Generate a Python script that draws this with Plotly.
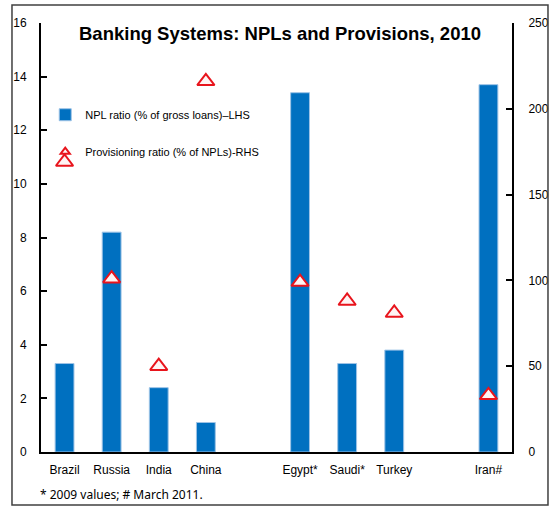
import plotly.graph_objects as go

# Data
categories = ["Brazil", "Russia", "India", "China", " ",
              "Egypt*", "Saudi*", "Turkey", "  ", "Iran#"]
npl_ratio = [3.3, 8.2, 2.4, 1.1, None, 13.4, 3.3, 3.8, None, 13.7]
provisioning = [169, 101, 50, 216, None, 99, 88, 81, None, 33]

left_ticks = [0, 2, 4, 6, 8, 10, 12, 14, 16]
right_ticks = [0, 50, 100, 150, 200, 250]

font_main = "Liberation Sans, Arial, sans-serif"
tri_marker = dict(symbol="triangle-up", color="#FFF4F4",
                  line=dict(color="#E8141C", width=2))

fig = go.Figure()

fig.add_trace(go.Bar(
    x=categories,
    y=npl_ratio,
    name="NPL ratio (% of gross loans)\u2013LHS",
    width=0.4,
    marker=dict(color="#0070C0", line=dict(color="#9DC3E6", width=1)),
    legendgroup="npl",
))

fig.add_trace(go.Scatter(
    x=categories,
    y=provisioning,
    yaxis="y2",
    mode="markers",
    name="Provisioning ratio (% of NPLs)-RHS",
    marker=dict(size=15, **tri_marker),
    cliponaxis=False,
    legendgroup="prov",
    showlegend=False,
))

# legend entry with the small triangle used in the original key
fig.add_trace(go.Scatter(
    x=[None], y=[None], yaxis="y2",
    mode="markers",
    name="Provisioning ratio (% of NPLs)-RHS",
    marker=dict(size=8, **tri_marker),
    legendgroup="prov",
))

fig.update_layout(
    width=551,
    height=508,
    margin=dict(l=41, r=39, t=23, b=56),
    paper_bgcolor="white",
    plot_bgcolor="white",
    font=dict(family=font_main, size=12, color="black"),
    showlegend=True,
    legend=dict(
        x=0.009, y=0.82, xanchor="left", yanchor="top",
        bgcolor="rgba(0,0,0,0)",
        font=dict(size=11, family=font_main),
        tracegroupgap=18,
        itemwidth=30,
    ),
    xaxis=dict(
        type="category",
        categoryorder="array",
        categoryarray=categories,
        range=[-0.5, len(categories) - 0.5],
        showline=True, linecolor="black", linewidth=2,
        ticks="", showgrid=False, zeroline=False,
        tickfont=dict(size=12),
        ticklabelstandoff=6,
        automargin=False,
    ),
    yaxis=dict(
        range=[0, 16],
        tickvals=left_ticks,
        showline=True, linecolor="black", linewidth=2,
        ticks="inside", ticklen=6, tickwidth=2, tickcolor="black",
        showgrid=False, zeroline=False,
        ticklabelstandoff=10,
        tickfont=dict(size=12),
        automargin=False,
    ),
    yaxis2=dict(
        range=[0, 250],
        tickvals=right_ticks,
        overlaying="y", side="right",
        showline=True, linecolor="black", linewidth=2,
        ticks="inside", ticklen=6, tickwidth=2, tickcolor="black",
        showgrid=False, zeroline=False,
        ticklabelstandoff=12,
        tickfont=dict(size=12),
        automargin=False,
    ),
)

# Title
fig.add_annotation(
    text="<b>Banking Systems: NPLs and Provisions, 2010</b>",
    xref="paper", yref="paper", x=0.507, y=0.976,
    xanchor="center", yanchor="middle", showarrow=False,
    font=dict(size=18.5, family=font_main, color="black"),
)

# Footnote
fig.add_annotation(
    text="* 2009 values; # March 2011.",
    xref="paper", yref="paper", x=-0.007, y=-0.1,
    xanchor="left", yanchor="middle", showarrow=False,
    font=dict(size=12, family="Noto Sans, sans-serif", color="black"),
)

# Outer frame
fig.add_shape(
    type="rect", xref="paper", yref="paper",
    x0=-0.0616, x1=1.0764, y0=-0.1235, y1=1.042,
    line=dict(color="#404040", width=1.5),
)

fig.write_html("out.html", config={"displayModeBar": False},
               post_script="document.body.style.margin='0px';")
